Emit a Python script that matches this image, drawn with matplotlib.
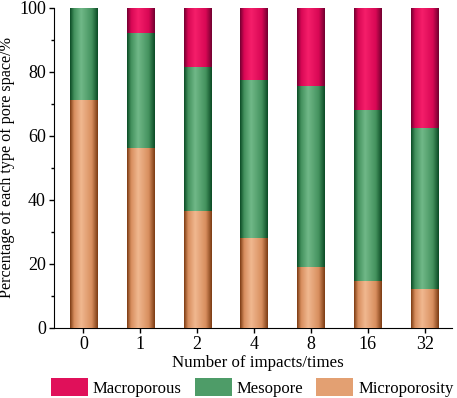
import numpy as np
import matplotlib
matplotlib.use("Agg")
import matplotlib.pyplot as plt
from matplotlib.colors import LinearSegmentedColormap

plt.rcParams['font.family'] = ['Liberation Serif', 'DejaVu Serif']

categories = ["0", "1", "2", "4", "8", "16", "32"]
microporosity = [71.3, 56.1, 36.7, 28.2, 19.2, 14.6, 12.2]
mesopore = [28.7, 36.0, 45.0, 49.4, 56.3, 53.6, 50.3]
macroporous = [0.0, 7.9, 18.3, 22.4, 24.5, 31.8, 37.5]

fig = plt.figure(figsize=(4.57, 3.98), dpi=100)
ax = fig.add_axes([0.118, 0.176, 0.871, 0.804])

x = np.arange(len(categories))
w = 0.48
micro_b = ax.bar(x, microporosity, w, color="#E3A072", label="Microporosity", zorder=2)
meso_b = ax.bar(x, mesopore, w, bottom=microporosity, color="#4E9C68", label="Mesopore", zorder=2)
bot2 = np.array(microporosity) + np.array(mesopore)
macro_b = ax.bar(x, macroporous, w, bottom=bot2, color="#E0105A", label="Macroporous", zorder=2)

def cmap_for(dark, mid, light):
    return LinearSegmentedColormap.from_list(
        "g", [(0, dark), (0.15, mid), (0.4, light), (0.78, mid), (1.0, dark)])

cmaps = [
    (micro_b, cmap_for("#7A3A12", "#D88E5E", "#F0B890")),
    (meso_b, cmap_for("#0A4A24", "#44925E", "#70B888")),
    (macro_b, cmap_for("#700030", "#D80855", "#F51E6A")),
]
grad = np.linspace(0, 1, 256).reshape(1, -1)
for bars, cm in cmaps:
    for p in bars:
        bx, by = p.get_x(), p.get_y()
        bw, bh = p.get_width(), p.get_height()
        if bh <= 0:
            continue
        im = ax.imshow(grad, cmap=cm, extent=[bx, bx + bw, by, by + bh],
                       aspect='auto', zorder=3, interpolation='bilinear')
        im.set_clip_path(p)

ax.set_xlim(-0.52, 6.48)
ax.set_ylim(0, 100)
ax.set_xticks(x)
ax.set_xticklabels(categories)
ax.set_yticks(np.arange(0, 101, 20))
ax.set_yticks(np.arange(10, 100, 20), minor=True)
ax.tick_params(axis='both', which='major', labelsize=13, direction='out', length=3.8, width=1, pad=2)
ax.tick_params(axis='y', which='minor', direction='out', length=2.5, width=1)
ax.spines['top'].set_visible(False)
ax.spines['right'].set_visible(False)
ax.set_xlabel("Number of impacts/times", fontsize=12.2)
ax.xaxis.set_label_coords(0.513, -0.085)
ax.set_ylabel("Percentage of each type of pore space/%", fontsize=11.6)
ax.yaxis.set_label_coords(-0.098, 0.5)

h, l = ax.get_legend_handles_labels()
order = [2, 1, 0]
ax.legend([h[i] for i in order], [l[i] for i in order], ncol=3, frameon=False,
          fontsize=12, loc='center', bbox_to_anchor=(0.552, 0.027),
          bbox_transform=fig.transFigure,
          handlelength=2.2, handleheight=1.3, columnspacing=0.8, handletextpad=0.3,
          borderaxespad=0, borderpad=0)

fig.savefig("out.png", dpi=100)
